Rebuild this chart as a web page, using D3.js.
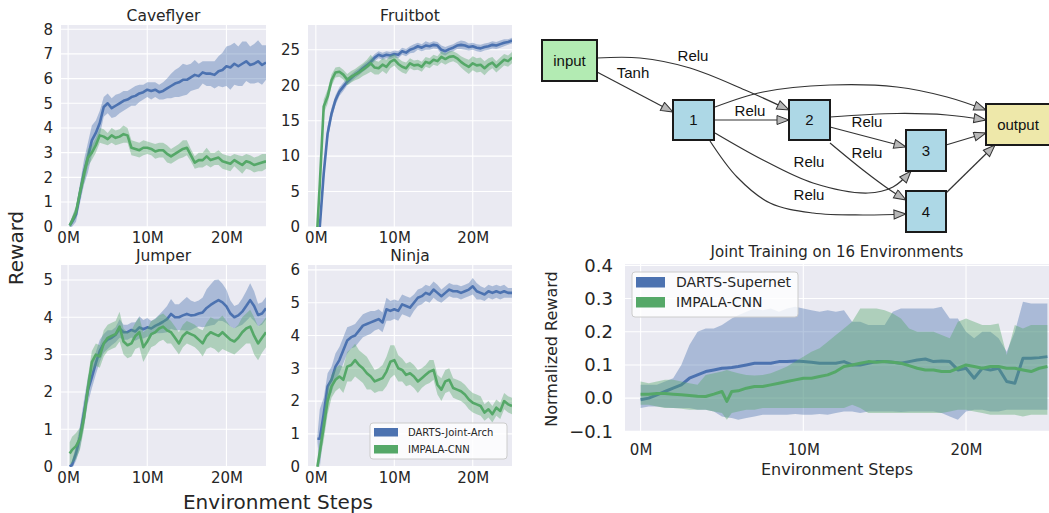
<!DOCTYPE html>
<html lang="en">
<head>
<meta charset="utf-8" />
<title>Procgen rewards</title>
<script src="https://cdn.jsdelivr.net/npm/d3@7"></script>
<style>
body { margin: 0; background: #fff; }
svg text { font-family: "DejaVu Sans", sans-serif; }
svg .diagram text { font-family: "Liberation Sans", Arial, sans-serif; }
</style>
</head>
<body>
<script>
// x positions (million env steps) for the four small panels
var steps = [0.2, 0.5, 1, 1.5, 2, 2.5, 3, 3.5, 4, 4.5,
    5, 5.5, 6, 6.5, 7, 7.5, 8, 8.5, 9, 9.5,
    10, 10.5, 11, 11.5, 12, 12.5, 13, 13.5, 14, 14.5,
    15, 15.5, 16, 16.5, 17, 17.5, 18, 18.5, 19, 19.5,
    20, 20.5, 21, 21.5, 22, 22.5, 23, 23.5, 24, 24.5,
    25];
var xTickValues = [0, 10, 20];
var seriesNames = ["DARTS-Joint-Arch", "IMPALA-CNN"];

var caveflyerDarts = [0.05, 0.2, 0.5, 1.35, 2.2, 2.8, 3.5, 3.8, 4.2, 4.85,
    5.0, 4.8, 4.9, 5.0, 5.1, 5.15, 5.25, 5.3, 5.4, 5.45,
    5.55, 5.5, 5.55, 5.45, 5.5, 5.6, 5.7, 5.8, 5.85, 5.95,
    5.95, 6.05, 6.15, 6.1, 6.25, 6.2, 6.2, 6.15, 6.3, 6.35,
    6.5, 6.45, 6.6, 6.5, 6.6, 6.7, 6.55, 6.6, 6.7, 6.55,
    6.65];
var caveflyerDartsSpread = [0.1, 0.2, 0.3, 0.4, 0.5, 0.6, 0.6, 0.5, 0.5, 0.4,
    0.4, 0.4, 0.45, 0.4, 0.4, 0.35, 0.35, 0.4, 0.35, 0.3,
    0.3, 0.35, 0.3, 0.3, 0.35, 0.4, 0.5, 0.55, 0.6, 0.65,
    0.6, 0.55, 0.6, 0.5, 0.45, 0.5, 0.5, 0.55, 0.6, 0.7,
    0.8, 0.9, 0.85, 0.8, 0.9, 0.8, 0.75, 0.8, 0.85, 0.8,
    0.7];
var caveflyerImpala = [0.05, 0.25, 0.6, 1.4, 2.1, 2.8, 3.0, 3.3, 3.7, 3.65,
    3.55, 3.7, 3.6, 3.65, 3.75, 3.7, 3.2, 3.15, 3.1, 3.2,
    3.2, 3.15, 3.05, 3.1, 3.1, 2.95, 2.85, 2.95, 3.05, 3.15,
    3.2, 2.9, 2.6, 2.7, 2.7, 2.85, 2.7, 2.75, 2.8, 2.65,
    2.6, 2.55, 2.7, 2.6, 2.5, 2.65, 2.6, 2.5, 2.55, 2.6,
    2.65];
var caveflyerImpalaSpread = [0.1, 0.15, 0.25, 0.3, 0.35, 0.35, 0.3, 0.3, 0.3, 0.3,
    0.25, 0.3, 0.3, 0.3, 0.35, 0.3, 0.3, 0.3, 0.3, 0.3,
    0.25, 0.25, 0.3, 0.3, 0.3, 0.35, 0.3, 0.3, 0.3, 0.35,
    0.3, 0.25, 0.25, 0.3, 0.3, 0.35, 0.3, 0.25, 0.3, 0.3,
    0.3, 0.3, 0.25, 0.3, 0.35, 0.3, 0.3, 0.3, 0.3, 0.35,
    0.3];

var fruitbotDarts = [null, 0, 7.5, 13.2, 16, 17.9, 19.1, 19.8, 20.5, 21,
    21.5, 21.9, 22.4, 22.8, 23.3, 23.9, 24.3, 24.1, 24.3, 24.2,
    24.4, 24.3, 24.8, 24.6, 25, 25.2, 25.5, 25.3, 25.6, 25.5,
    25.7, 25.6, 25, 24.8, 25.1, 25.3, 25.6, 25.7, 25.6, 25.4,
    25.5, 25.3, 25.2, 25.4, 25.5, 25.7, 25.6, 25.8, 26, 26.1,
    26.3];
var fruitbotDartsSpread = [0, 0, 1.0, 1.0, 0.8, 0.7, 0.6, 0.6, 0.5, 0.5,
    0.5, 0.5, 0.5, 0.5, 0.5, 0.5, 0.5, 0.5, 0.5, 0.5,
    0.5, 0.5, 0.5, 0.5, 0.5, 0.6, 0.5, 0.5, 0.6, 0.5,
    0.5, 0.5, 0.6, 0.6, 0.5, 0.5, 0.5, 0.6, 0.6, 0.5,
    0.5, 0.5, 0.5, 0.5, 0.5, 0.5, 0.5, 0.5, 0.5, 0.4,
    0.4];
var fruitbotImpala = [0, 6, 17, 18.4, 20.7, 21.8, 21.9, 21.5, 20.8, 21.2,
    21.5, 21.8, 22.2, 22.6, 23.1, 22.5, 22.4, 22.9, 22.6, 23.3,
    23.6, 23.0, 22.6, 22.4, 23.1, 22.8, 22.9, 22.6, 23.3, 23.1,
    23.6, 23.4, 24, 23.7, 24, 24.1, 23.8, 23.3, 22.9, 22.6,
    23.1, 22.8, 22.9, 22.4, 22.9, 23.2, 22.6, 23.1, 23.6, 23.4,
    23.9];
var fruitbotImpalaSpread = [0, 0.5, 1, 1, 0.8, 0.7, 0.7, 0.7, 0.8, 0.8,
    0.8, 0.9, 0.9, 1.0, 1.2, 1.0, 0.9, 0.9, 1.0, 0.9,
    0.8, 0.8, 0.8, 0.8, 0.7, 0.7, 0.7, 0.7, 0.7, 0.7,
    0.7, 0.7, 0.8, 0.8, 0.8, 0.7, 0.7, 0.8, 0.9, 1.0,
    1.0, 1.0, 1.0, 1.0, 0.9, 0.8, 0.8, 0.8, 0.8, 0.8,
    0.8];

var jumperDarts = [0, 0.05, 0.36, 0.8, 1.43, 2.05, 2.4, 2.77, 3.1, 3.3,
    3.4, 3.45, 3.53, 3.7, 3.6, 3.6, 3.66, 3.62, 3.73, 3.68,
    3.73, 3.7, 3.77, 3.82, 3.88, 3.95, 4.09, 4.0, 4.0, 4.05,
    4.09, 4.05, 4.06, 4.1, 4.13, 4.25, 4.33, 4.4, 4.46, 4.4,
    4.29, 4.1, 4.0, 4.05, 4.15, 4.3, 4.46, 4.3, 4.06, 4.1,
    4.24];
var jumperDartsSpread = [0.05, 0.1, 0.2, 0.3, 0.35, 0.35, 0.3, 0.3, 0.3, 0.25,
    0.25, 0.2, 0.2, 0.25, 0.2, 0.2, 0.2, 0.25, 0.3, 0.25,
    0.25, 0.2, 0.2, 0.25, 0.3, 0.35, 0.4, 0.35, 0.35, 0.4,
    0.45, 0.4, 0.35, 0.35, 0.4, 0.5, 0.55, 0.6, 0.55, 0.5,
    0.45, 0.35, 0.3, 0.3, 0.35, 0.4, 0.45, 0.4, 0.3, 0.3,
    0.3];
var jumperImpala = [0.35, 0.45, 0.55, 0.75, 1.3, 2.1, 2.8, 3.0, 2.95, 3.3,
    3.45, 3.5, 3.55, 3.75, 3.35, 3.25, 3.3, 3.5, 3.6, 3.2,
    3.35, 3.55, 3.6, 3.7, 3.75, 3.65, 3.6, 3.45, 3.3, 3.5,
    3.6, 3.55, 3.5, 3.4, 3.3, 3.5, 3.6, 3.55, 3.5, 3.6,
    3.5, 3.4, 3.35, 3.45, 3.6, 3.7, 3.75, 3.5, 3.3, 3.45,
    3.6];
var jumperImpalaSpread = [0.3, 0.35, 0.35, 0.3, 0.3, 0.3, 0.3, 0.3, 0.3, 0.35,
    0.35, 0.35, 0.35, 0.4, 0.35, 0.35, 0.35, 0.35, 0.4, 0.4,
    0.35, 0.35, 0.35, 0.35, 0.35, 0.35, 0.3, 0.3, 0.3, 0.3,
    0.3, 0.3, 0.3, 0.3, 0.35, 0.35, 0.4, 0.4, 0.45, 0.45,
    0.4, 0.35, 0.35, 0.35, 0.4, 0.4, 0.45, 0.5, 0.45, 0.4,
    0.4];

var ninjaDarts = [0.85, 0.85, 1.6, 2.45, 2.65, 3.05, 3.25, 3.55, 3.85, 3.95,
    4.0, 4.15, 4.3, 4.35, 4.4, 4.45, 4.5, 4.4, 4.8, 4.75,
    4.8, 4.75, 4.95, 4.9, 4.85, 5.0, 5.15, 5.2, 5.3, 5.25,
    5.4, 5.3, 5.2, 5.3, 5.4, 5.35, 5.35, 5.3, 5.35, 5.4,
    5.5, 5.35, 5.3, 5.25, 5.35, 5.3, 5.35, 5.3, 5.35, 5.3,
    5.3];
var ninjaDartsSpread = [0.1, 0.9, 0.5, 0.4, 0.4, 0.4, 0.4, 0.4, 0.4, 0.35,
    0.35, 0.35, 0.35, 0.35, 0.35, 0.3, 0.3, 0.3, 0.35, 0.3,
    0.3, 0.3, 0.3, 0.3, 0.3, 0.25, 0.25, 0.25, 0.25, 0.25,
    0.25, 0.25, 0.2, 0.2, 0.2, 0.2, 0.2, 0.2, 0.2, 0.2,
    0.25, 0.25, 0.2, 0.2, 0.2, 0.2, 0.2, 0.2, 0.2, 0.15,
    0.15];
var ninjaImpala = [0, 0.45, 1.2, 2.0, 2.45, 2.65, 2.75, 2.65, 3.05, 3.1,
    3.25, 3.1, 3.0, 2.85, 2.75, 2.6, 2.65, 2.7, 2.9, 3.2,
    3.25, 3.0, 2.95, 2.8, 2.85, 2.75, 2.6, 2.7, 2.8, 2.9,
    2.95, 2.5, 2.35, 2.6, 2.65, 2.4, 2.35, 2.3, 2.2, 2.05,
    1.95, 1.9, 1.85, 1.65, 1.75, 1.6, 1.8, 1.7, 2.0, 1.9,
    1.85];
var ninjaImpalaSpread = [0.1, 0.3, 0.4, 0.4, 0.35, 0.35, 0.35, 0.4, 0.45, 0.5,
    0.5, 0.45, 0.45, 0.5, 0.4, 0.35, 0.35, 0.4, 0.45, 0.5,
    0.45, 0.4, 0.35, 0.35, 0.35, 0.35, 0.35, 0.3, 0.3, 0.35,
    0.3, 0.3, 0.35, 0.35, 0.35, 0.3, 0.3, 0.3, 0.3, 0.3,
    0.3, 0.3, 0.3, 0.25, 0.25, 0.25, 0.25, 0.25, 0.25, 0.25,
    0.25];

// joint training on 16 environments
var jointSteps = [0, 0.5, 1, 1.5, 2, 2.5, 3, 3.5, 4, 4.5,
    5, 5.3, 5.6, 6, 6.5, 7, 7.5, 8, 8.5, 9, 9.5,
    10, 10.5, 11, 11.5, 12, 12.5, 13, 13.5, 14, 14.5,
    15, 15.5, 16, 16.5, 17, 17.5, 18, 18.5, 19, 19.5,
    20, 20.5, 21, 21.5, 22, 22.5, 23, 23.5, 24, 24.5,
    25];
var jointNames = ["DARTS-Supernet", "IMPALA-CNN"];
var jointDarts = [-0.005, 0.0, 0.01, 0.02, 0.03, 0.04, 0.06, 0.07, 0.08, 0.085,
    0.09, 0.091, 0.092, 0.095, 0.1, 0.105, 0.105, 0.105, 0.11, 0.11, 0.112,
    0.11, 0.108, 0.105, 0.105, 0.105, 0.11, 0.1, 0.1, 0.105, 0.11,
    0.11, 0.108, 0.105, 0.11, 0.115, 0.118, 0.11, 0.112, 0.11, 0.085,
    0.09, 0.06, 0.09, 0.085, 0.09, 0.05, 0.045, 0.12, 0.12, 0.122,
    0.125];
var jointDartsLo = [-0.03, -0.025, -0.025, -0.028, -0.03, -0.03, -0.03, -0.035, -0.035, -0.04,
    -0.055, -0.058, -0.06, -0.065, -0.06, -0.055, -0.05, -0.05, -0.05, -0.05, -0.048,
    -0.05, -0.05, -0.048, -0.05, -0.045, -0.04, -0.04, -0.045, -0.04, -0.04,
    -0.04, -0.04, -0.042, -0.04, -0.04, -0.04, -0.04, -0.045, -0.055, -0.065,
    -0.04, -0.035, -0.035, -0.04, -0.04, -0.035, -0.035, -0.035, -0.035, -0.035,
    -0.035];
var jointDartsHi = [0.04, 0.04, 0.04, 0.05, 0.06, 0.1, 0.16, 0.2, 0.21, 0.21,
    0.22, 0.23, 0.24, 0.25, 0.26, 0.27, 0.265, 0.27, 0.26, 0.27, 0.275,
    0.27, 0.265, 0.26, 0.265, 0.26, 0.265, 0.23, 0.23, 0.22, 0.22,
    0.22, 0.26, 0.27, 0.27, 0.27, 0.27, 0.27, 0.275, 0.24, 0.24,
    0.2, 0.18, 0.2, 0.2, 0.18, 0.14, 0.2, 0.29, 0.285, 0.285,
    0.285];
var jointImpala = [0.012, 0.012, 0.014, 0.014, 0.012, 0.01, 0.008, 0.006, 0.005, 0.012,
    0.02, -0.01, 0.02, 0.022, 0.03, 0.035, 0.035, 0.04, 0.045, 0.05, 0.055,
    0.06, 0.06, 0.065, 0.07, 0.08, 0.095, 0.1, 0.105, 0.11, 0.108,
    0.11, 0.108, 0.105, 0.098, 0.09, 0.085, 0.085, 0.08, 0.08, 0.09,
    0.1, 0.095, 0.09, 0.095, 0.095, 0.09, 0.09, 0.085, 0.08, 0.09,
    0.095];
var jointImpalaLo = [-0.02, -0.02, -0.025, -0.03, -0.03, -0.032, -0.035, -0.035, -0.035, -0.04,
    -0.045, -0.065, -0.045, -0.04, -0.035, -0.035, -0.03, -0.03, -0.03, -0.03, -0.03,
    -0.03, -0.03, -0.03, -0.03, -0.03, -0.03, -0.02, -0.03, -0.045, -0.045,
    -0.045, -0.045, -0.045, -0.045, -0.045, -0.045, -0.045, -0.045, -0.04, -0.035,
    -0.035, -0.04, -0.045, -0.05, -0.05, -0.05, -0.05, -0.055, -0.05, -0.05,
    -0.05];
var jointImpalaHi = [0.05, 0.045, 0.05, 0.055, 0.055, 0.05, 0.045, 0.04, 0.07, 0.075,
    0.08, 0.085, 0.08, 0.075, 0.07, 0.068, 0.07, 0.075, 0.085, 0.095, 0.11,
    0.125, 0.14, 0.15, 0.17, 0.19, 0.21, 0.23, 0.27, 0.27, 0.27,
    0.265, 0.255, 0.24, 0.21, 0.2, 0.2, 0.2, 0.19, 0.18, 0.23,
    0.24, 0.23, 0.22, 0.22, 0.225, 0.13, 0.22, 0.21, 0.22, 0.22,
    0.22];

// searched cell (graph)
var graphNodes = ["input", "1", "2", "3", "4", "output"];
var graphEdges = [
    ["input", "1", "Tanh"], ["input", "2", "Relu"], ["1", "output", ""],
    ["1", "2", "Relu"], ["2", "output", ""], ["2", "3", "Relu"],
    ["2", "4", "Relu"], ["1", "3", "Relu"], ["1", "4", "Relu"],
    ["3", "output", ""], ["4", "output", ""]
];

var blue = "#4c72b0";
var green = "#55a868";
var ink = "#262626";

var svg = d3.select("body").append("svg")
    .attr("width", 1049)
    .attr("height", 513);
svg.append("rect").attr("width", 1049).attr("height", 513).attr("fill", "#fff");

var clipCount = 0;

function drawPanel(p) {
    var x = d3.scaleLinear().domain(p.xDomain).range([p.left, p.right]);
    var y = d3.scaleLinear().domain(p.yDomain).range([p.bottom, p.top]);
    var g = svg.append("g");

    g.append("rect")
        .attr("x", p.left).attr("y", p.top)
        .attr("width", p.right - p.left).attr("height", p.bottom - p.top)
        .attr("fill", "#eaeaf2");

    g.selectAll("line.gx").data(p.xTicks).enter().append("line")
        .attr("x1", function(d) { return x(d); })
        .attr("x2", function(d) { return x(d); })
        .attr("y1", p.top).attr("y2", p.bottom)
        .attr("stroke", "#fff").attr("stroke-width", 1.1);
    g.selectAll("line.gy").data(p.yTicks).enter().append("line")
        .attr("x1", p.left).attr("x2", p.right)
        .attr("y1", function(d) { return y(d); })
        .attr("y2", function(d) { return y(d); })
        .attr("stroke", "#fff").attr("stroke-width", 1.1);

    clipCount++;
    var clipId = "clip" + clipCount;
    svg.append("clipPath").attr("id", clipId).append("rect")
        .attr("x", p.left).attr("y", p.top)
        .attr("width", p.right - p.left).attr("height", p.bottom - p.top);
    var plot = g.append("g").attr("clip-path", "url(#" + clipId + ")");

    p.series.forEach(function(s) {
        var rows = p.steps.map(function(t, i) {
            var m = s.mean[i];
            return {
                t: t,
                m: m,
                lo: s.lo ? s.lo[i] : m - s.spread[i],
                hi: s.hi ? s.hi[i] : m + s.spread[i]
            };
        });
        var ok = function(d) { return d.m !== null; };
        plot.append("path").datum(rows)
            .attr("d", d3.area().defined(ok)
                .x(function(d) { return x(d.t); })
                .y0(function(d) { return y(d.lo); })
                .y1(function(d) { return y(d.hi); }))
            .attr("fill", s.color)
            .attr("fill-opacity", 0.4);
        plot.append("path").datum(rows)
            .attr("d", d3.line().defined(ok)
                .x(function(d) { return x(d.t); })
                .y(function(d) { return y(d.m); }))
            .attr("fill", "none")
            .attr("stroke", s.color)
            .attr("stroke-width", p.lineWidth)
            .attr("stroke-linejoin", "round");
    });

    var xa = g.append("g")
        .attr("transform", "translate(0," + p.bottom + ")")
        .attr("color", ink)
        .call(d3.axisBottom(x).tickValues(p.xTicks)
            .tickFormat(function(d) { return d + "M"; })
            .tickSize(0).tickPadding(p.xPad));
    xa.select(".domain").remove();
    xa.selectAll("text").attr("font-size", p.xFont);

    var ya = g.append("g")
        .attr("transform", "translate(" + p.left + ",0)")
        .attr("color", ink)
        .call(d3.axisLeft(y).tickValues(p.yTicks)
            .tickFormat(p.yFormat || function(d) { return d; })
            .tickSize(0).tickPadding(p.yPad));
    ya.select(".domain").remove();
    ya.selectAll("text").attr("font-size", p.yFont);

    g.append("text")
        .attr("x", (p.left + p.right) / 2)
        .attr("y", p.top - p.titleGap)
        .attr("text-anchor", "middle")
        .attr("font-size", p.titleFont)
        .attr("fill", ink)
        .text(p.title);
}

function pairSeries(m1, s1, m2, s2) {
    return [
        { mean: m1, spread: s1, color: blue },
        { mean: m2, spread: s2, color: green }
    ];
}

var colLeft = [61, 308];
var colRight = [266, 512];
var rowTop = [25, 265];
var rowBottom = [227, 467];

var panels = [
    { title: "Caveflyer", c: 0, r: 0, yDomain: [-0.01, 8.17], yTicks: [0, 1, 2, 3, 4, 5, 6, 7, 8],
      series: pairSeries(caveflyerDarts, caveflyerDartsSpread, caveflyerImpala, caveflyerImpalaSpread) },
    { title: "Fruitbot", c: 1, r: 0, yDomain: [0, 28.5], yTicks: [0, 5, 10, 15, 20, 25],
      series: pairSeries(fruitbotDarts, fruitbotDartsSpread, fruitbotImpala, fruitbotImpalaSpread) },
    { title: "Jumper", c: 0, r: 1, yDomain: [-0.01, 5.4], yTicks: [0, 1, 2, 3, 4, 5],
      series: pairSeries(jumperDarts, jumperDartsSpread, jumperImpala, jumperImpalaSpread) },
    { title: "Ninja", c: 1, r: 1, yDomain: [-0.01, 6.15], yTicks: [0, 1, 2, 3, 4, 5, 6],
      series: pairSeries(ninjaDarts, ninjaDartsSpread, ninjaImpala, ninjaImpalaSpread) }
];

panels.forEach(function(p) {
    drawPanel({
        title: p.title,
        left: colLeft[p.c], right: colRight[p.c],
        top: rowTop[p.r], bottom: rowBottom[p.r],
        xDomain: [p.c === 0 ? -0.9 : -1.0, 25],
        yDomain: p.yDomain,
        xTicks: xTickValues, yTicks: p.yTicks,
        steps: steps, series: p.series,
        lineWidth: 2.6, xPad: 5, yPad: 8,
        xFont: "15px", yFont: "15px", titleFont: "15.5px", titleGap: 4
    });
});

// shared labels of the 2x2 grid
svg.append("text")
    .attr("transform", "translate(23,248) rotate(-90)")
    .attr("text-anchor", "middle")
    .attr("font-size", "20px")
    .attr("fill", ink)
    .text("Reward");
svg.append("text")
    .attr("x", 278).attr("y", 509)
    .attr("text-anchor", "middle")
    .attr("font-size", "20px")
    .attr("fill", ink)
    .text("Environment Steps");

function drawLegend(x0, y0, w, h, names, font, patchW, patchH, rowGap, textGap) {
    var lg = svg.append("g");
    lg.append("rect")
        .attr("x", x0).attr("y", y0).attr("width", w).attr("height", h)
        .attr("rx", 3)
        .attr("fill", "#fff").attr("fill-opacity", 0.8)
        .attr("stroke", "#cccccc").attr("stroke-width", 1);
    var items = lg.selectAll("g.item").data(names).enter().append("g")
        .attr("transform", function(d, i) {
            return "translate(" + (x0 + 4) + "," + (y0 + 5 + i * rowGap) + ")";
        });
    items.append("rect")
        .attr("width", patchW).attr("height", patchH)
        .attr("fill", function(d, i) { return i === 0 ? blue : green; });
    items.append("text")
        .attr("x", patchW + textGap)
        .attr("y", patchH / 2)
        .attr("dy", "0.36em")
        .attr("font-size", font)
        .attr("fill", ink)
        .text(function(d) { return d; });
}

drawLegend(370, 423, 137, 36, seriesNames, "10px", 24, 8.5, 17, 10);

// joint training panel
drawPanel({
    title: "Joint Training on 16 Environments",
    left: 625, right: 1049, top: 264, bottom: 432,
    xDomain: [-0.96, 25.1], yDomain: [-0.102, 0.404],
    xTicks: xTickValues, yTicks: [-0.1, 0, 0.1, 0.2, 0.3, 0.4],
    yFormat: d3.format(".1f"),
    steps: jointSteps,
    series: [
        { mean: jointDarts, lo: jointDartsLo, hi: jointDartsHi, color: blue },
        { mean: jointImpala, lo: jointImpalaLo, hi: jointImpalaHi, color: green }
    ],
    lineWidth: 3, xPad: 12, yPad: 12,
    xFont: "15px", yFont: "18px", titleFont: "15px", titleGap: 7
});
svg.append("text")
    .attr("x", 837).attr("y", 475)
    .attr("text-anchor", "middle")
    .attr("font-size", "16px")
    .attr("fill", ink)
    .text("Environment Steps");
svg.append("text")
    .attr("transform", "translate(557,349) rotate(-90)")
    .attr("text-anchor", "middle")
    .attr("font-size", "16px")
    .attr("fill", ink)
    .text("Normalized Reward");
drawLegend(632, 272, 166, 45, jointNames, "14px", 29, 10.5, 20, 11);

// cell diagram layout
var nodeBox = {
    input: [542, 40, 55, 41],
    "1": [673, 100, 41, 40],
    "2": [789, 100, 41, 40],
    "3": [906, 130, 40, 41],
    "4": [906, 191, 40, 41],
    output: [986, 104, 68, 41]
};
var nodeFill = { input: "#b3ebb3", output: "#eee8aa" };
var edgeRoute = {
    "input-1": [[597, 72], [673, 112]],
    "input-2": [[597, 58], [640, 58], [690, 68], [745, 90], [789, 110]],
    "1-output": [[715, 107], [763, 92], [830, 85], [897, 87], [947, 97], [986, 110]],
    "1-2": [[714, 120], [789, 120]],
    "2-output": [[830, 117], [897, 113.5], [947, 115], [986, 120]],
    "2-3": [[830, 127], [906, 147]],
    "2-4": [[830, 143], [863, 170], [890, 190], [906, 200]],
    "1-3": [[715, 133], [763, 160], [813, 183], [868, 193], [893, 187], [911, 171]],
    "1-4": [[710, 141], [737, 177], [770, 203], [813, 213], [863, 215], [906, 214]],
    "3-output": [[946, 145], [986, 133]],
    "4-output": [[946, 193], [995, 145]]
};
var edgeLabelAt = {
    "input-1": [633, 73], "input-2": [693, 56], "1-2": [750, 111],
    "2-3": [867, 122], "2-4": [867, 153], "1-3": [809, 162], "1-4": [809, 195]
};

var dg = svg.append("g").attr("class", "diagram");
var defs = svg.append("defs");
defs.append("marker")
    .attr("id", "arrow")
    .attr("markerUnits", "userSpaceOnUse")
    .attr("markerWidth", 14).attr("markerHeight", 11)
    .attr("refX", 13).attr("refY", 5)
    .attr("orient", "auto")
    .append("path")
    .attr("d", "M1,0.5 L13,5 L1,9.5 Z")
    .attr("fill", "#b8b8b8")
    .attr("stroke", "#333").attr("stroke-width", 1);

var edgeLine = d3.line().curve(d3.curveCatmullRom.alpha(0.5));

dg.selectAll("path.edge").data(graphEdges).enter().append("path")
    .attr("class", "edge")
    .attr("d", function(d) { return edgeLine(edgeRoute[d[0] + "-" + d[1]]); })
    .attr("fill", "none")
    .attr("stroke", "#333")
    .attr("stroke-width", 1.2)
    .attr("marker-end", "url(#arrow)");

dg.selectAll("text.elabel").data(graphEdges.filter(function(d) { return d[2] !== ""; }))
    .enter().append("text")
    .attr("x", function(d) { return edgeLabelAt[d[0] + "-" + d[1]][0]; })
    .attr("y", function(d) { return edgeLabelAt[d[0] + "-" + d[1]][1]; })
    .attr("dy", "0.35em")
    .attr("text-anchor", "middle")
    .attr("font-size", "15px")
    .attr("fill", "#111")
    .text(function(d) { return d[2]; });

var nodes = dg.selectAll("g.node").data(graphNodes).enter().append("g");
nodes.append("rect")
    .attr("x", function(d) { return nodeBox[d][0]; })
    .attr("y", function(d) { return nodeBox[d][1]; })
    .attr("width", function(d) { return nodeBox[d][2]; })
    .attr("height", function(d) { return nodeBox[d][3]; })
    .attr("fill", function(d) { return nodeFill[d] || "#add8e6"; })
    .attr("stroke", "#1a1a1a")
    .attr("stroke-width", 2);
nodes.append("text")
    .attr("x", function(d) { return d === "output" ? 1018 : nodeBox[d][0] + nodeBox[d][2] / 2; })
    .attr("y", function(d) { return nodeBox[d][1] + nodeBox[d][3] / 2; })
    .attr("dy", "0.35em")
    .attr("text-anchor", "middle")
    .attr("font-size", "15px")
    .attr("fill", "#111")
    .text(function(d) { return d; });
</script>
</body>
</html>
